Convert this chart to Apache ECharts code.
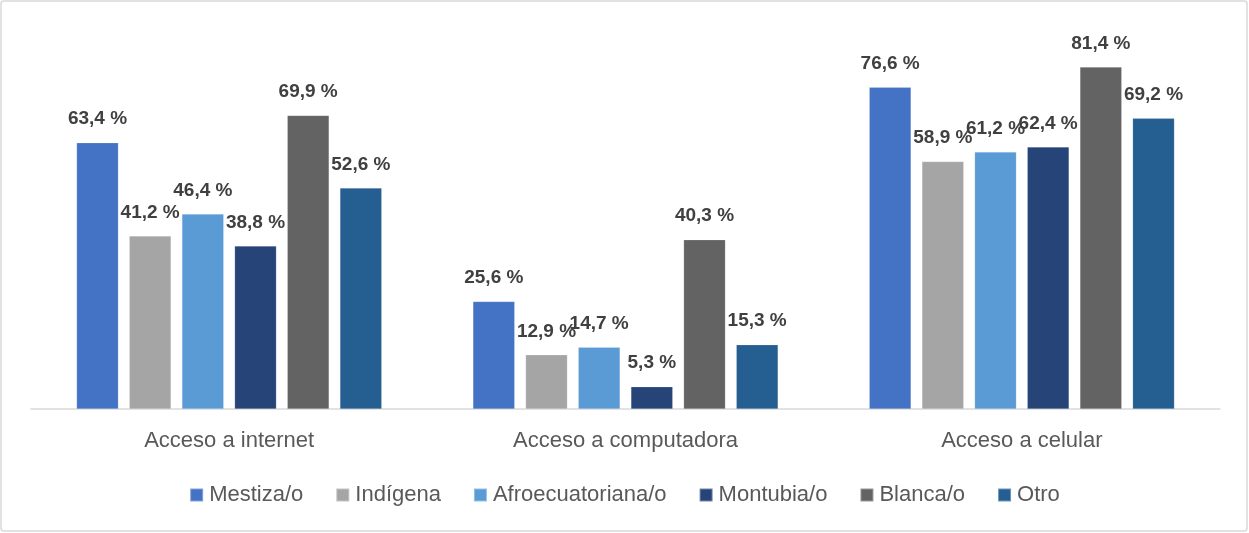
<!DOCTYPE html>
<html>
<head>
<meta charset="utf-8">
<script src="https://cdn.jsdelivr.net/npm/echarts@6/dist/echarts.min.js"></script>
<style>
  html, body { margin: 0; padding: 0; background: #fff; }
  #chart { width: 1249px; height: 533px; }
</style>
</head>
<body>
<div id="chart"></div>
<script>
// categorias y grupos
const categories = ['Acceso a internet', 'Acceso a computadora', 'Acceso a celular']
const groups = ['Mestiza/o', 'Indígena', 'Afroecuatoriana/o', 'Montubia/o', 'Blanca/o', 'Otro']

// valores por grupo (internet, computadora, celular)
const mestiza = [63.4, 25.6, 76.6]
const indigena = [41.2, 12.9, 58.9]
const afro = [46.4, 14.7, 61.2]
const montubia = [38.8, 5.3, 62.4]
const blanca = [69.9, 40.3, 81.4]
const otro = [52.6, 15.3, 69.2]

const values = [mestiza, indigena, afro, montubia, blanca, otro]
const colors = ['#4472C4', '#A5A5A5', '#5B9BD5', '#264478', '#636363', '#255E91']

const font = '"Liberation Sans", Arial, sans-serif'

const chart = echarts.init(document.getElementById('chart'))
chart.setOption({
  animation: false,
  textStyle: { fontFamily: font },
  graphic: [{
    type: 'rect',
    shape: { x: 1, y: 1, width: 1246, height: 530, r: 3 },
    style: { fill: 'none', stroke: '#d9d9d9', lineWidth: 1.5 },
    silent: true
  }],
  grid: { left: 31, right: 29, top: 31, bottom: 124 },
  legend: {
    data: groups,
    bottom: 22,
    left: 'center',
    icon: 'rect',
    itemWidth: 13,
    itemHeight: 13,
    itemGap: 32,
    textStyle: { color: '#595959', fontSize: 22, fontFamily: font, padding: [0, 0, 0, 1] }
  },
  xAxis: {
    type: 'category',
    data: categories,
    axisTick: { show: false },
    axisLine: { lineStyle: { color: '#d9d9d9', width: 1.5 } },
    axisLabel: { color: '#595959', fontSize: 22, margin: 21, fontFamily: font }
  },
  yAxis: {
    type: 'value',
    min: 0,
    max: 90,
    show: false,
    splitLine: { show: false }
  },
  series: groups.map((name, i) => ({
    name: name,
    type: 'bar',
    data: values[i],
    barGap: '26%',
    barCategoryGap: '23%',
    itemStyle: { color: colors[i], borderColor: 'rgba(255,255,255,0.35)', borderWidth: 0.5 },
    label: {
      show: true,
      position: 'top',
      distance: 14,
      color: '#404040',
      fontWeight: 'bold',
      fontSize: 19,
      fontFamily: font,
      formatter: p => p.value.toFixed(1).replace('.', ',') + ' %'
    }
  }))
})
</script>
</body>
</html>
